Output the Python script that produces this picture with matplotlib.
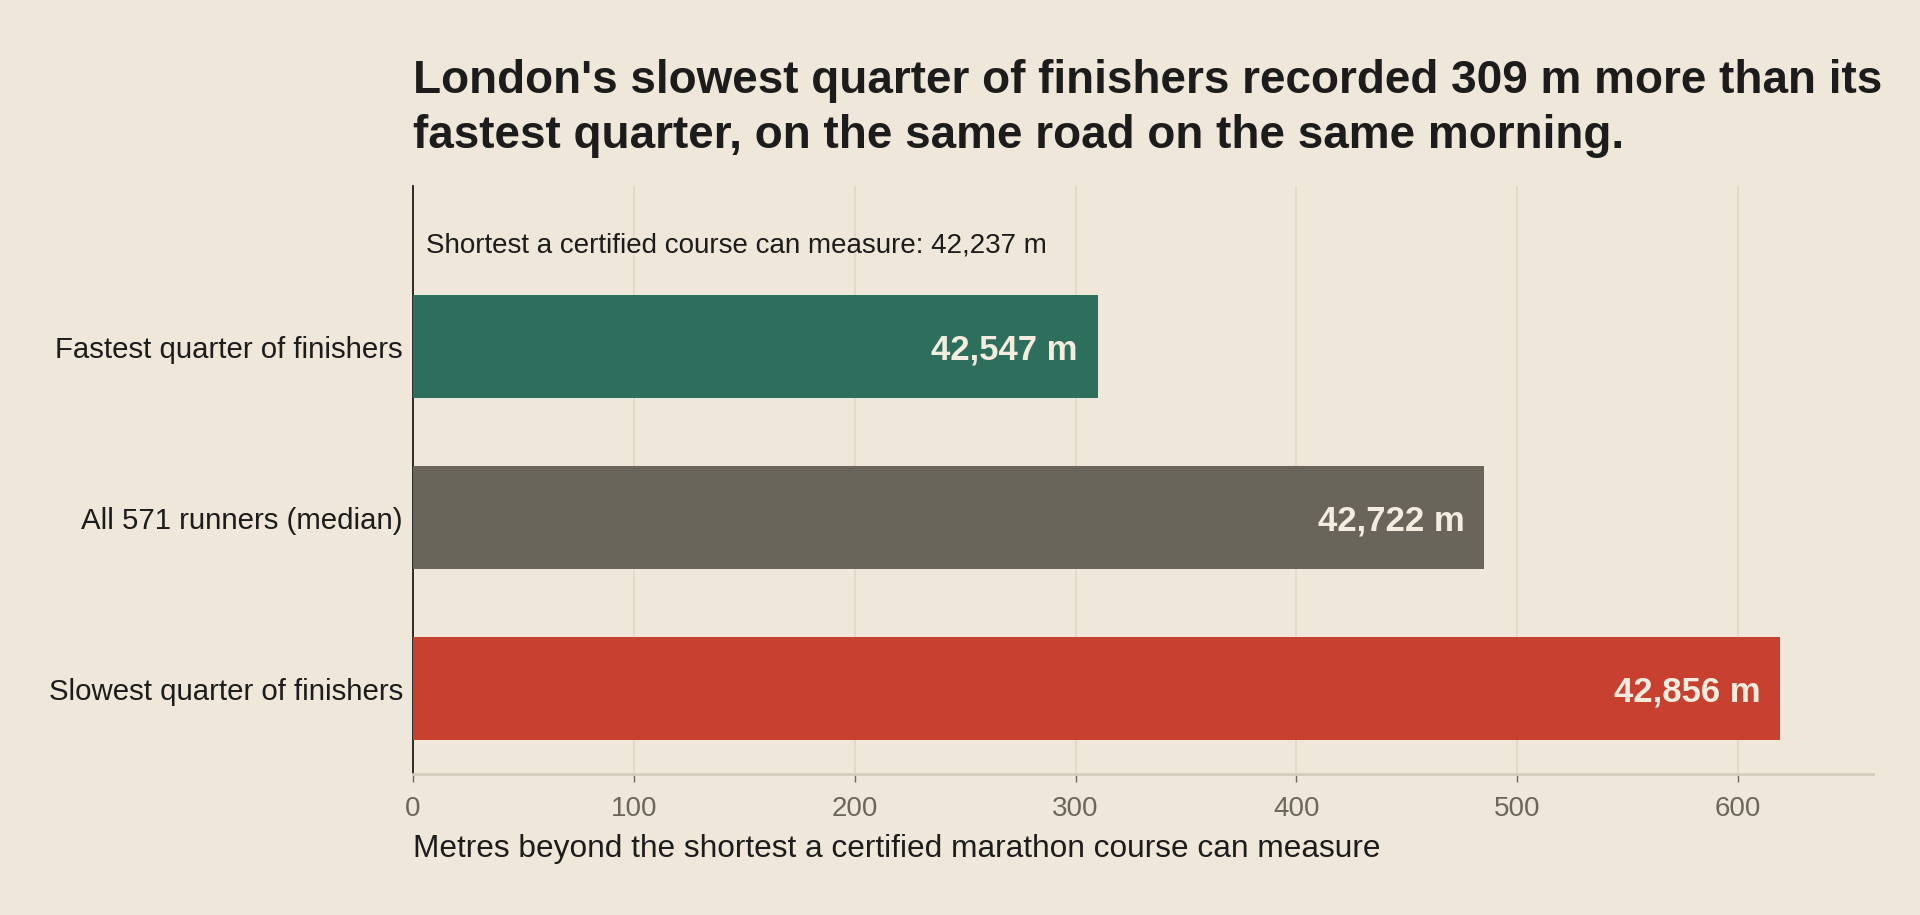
import matplotlib.pyplot as plt
import numpy as np

# Dane
groups = ['Slowest quarter of finishers', 'All 571 runners (median)', 'Fastest quarter of finishers']
recorded = [42856, 42722, 42547]
shortest = 42237
colors = ['#c84130', '#69655a', '#2e6e5c']
beyond = [r - shortest for r in recorded]
title_lines = ["London's slowest quarter of finishers recorded 309 m more than its",
               "fastest quarter, on the same road on the same morning."]

bg = '#efe7d9'
plt.rcParams['font.family'] = ['Liberation Sans', 'DejaVu Sans']

fig = plt.figure(figsize=(19.2, 9.15), dpi=100, facecolor=bg)
ax = fig.add_axes([0.215, 0.154, 0.7605, 0.6427], facecolor=bg)

y = np.arange(len(groups))
ax.barh(y, beyond, height=0.6, color=colors, zorder=3)
for yi, b, r in zip(y, beyond, recorded):
    ax.text(b - 9, yi - 0.02, f'{r:,} m', ha='right', va='center', fontsize=25,
            fontweight='bold', color='#f3ecdf', zorder=4)

ax.text(6, 2.59, f'Shortest a certified course can measure: {shortest:,} m',
        ha='left', va='center', fontsize=20, color='#1c1c1c')

ax.set_xlim(0, 661)
ax.set_ylim(-0.5, 2.94)
ax.set_yticks(y)
ax.set_yticklabels(groups, fontsize=21.2, color='#1c1c1c')
ax.set_xticks(np.arange(0, 601, 100))
ax.tick_params(axis='x', labelsize=20, labelcolor='#6b665b', color='#6b665b',
               length=6, width=1, pad=10)
ax.tick_params(axis='y', length=0, pad=7)
ax.grid(axis='x', color='#e0d7c6', linewidth=1.2, zorder=0)

for s in ['top', 'right']:
    ax.spines[s].set_visible(False)
ax.spines['left'].set_color('#1c1c1c')
ax.spines['left'].set_linewidth(1.3)
ax.spines['bottom'].set_color('#d5ccbc')
ax.spines['bottom'].set_linewidth(2)

fig.text(0.215, 0.072, 'Metres beyond the shortest a certified marathon course can measure',
         ha='left', va='center', fontsize=22.8, color='#1c1c1c')
for line, yb in zip(title_lines, [0.8984, 0.8383]):
    fig.text(0.215, yb, line, ha='left', va='baseline', fontsize=33,
             fontweight='bold', color='#1c1c1c')

plt.savefig('out.png', dpi=100, facecolor=bg)
